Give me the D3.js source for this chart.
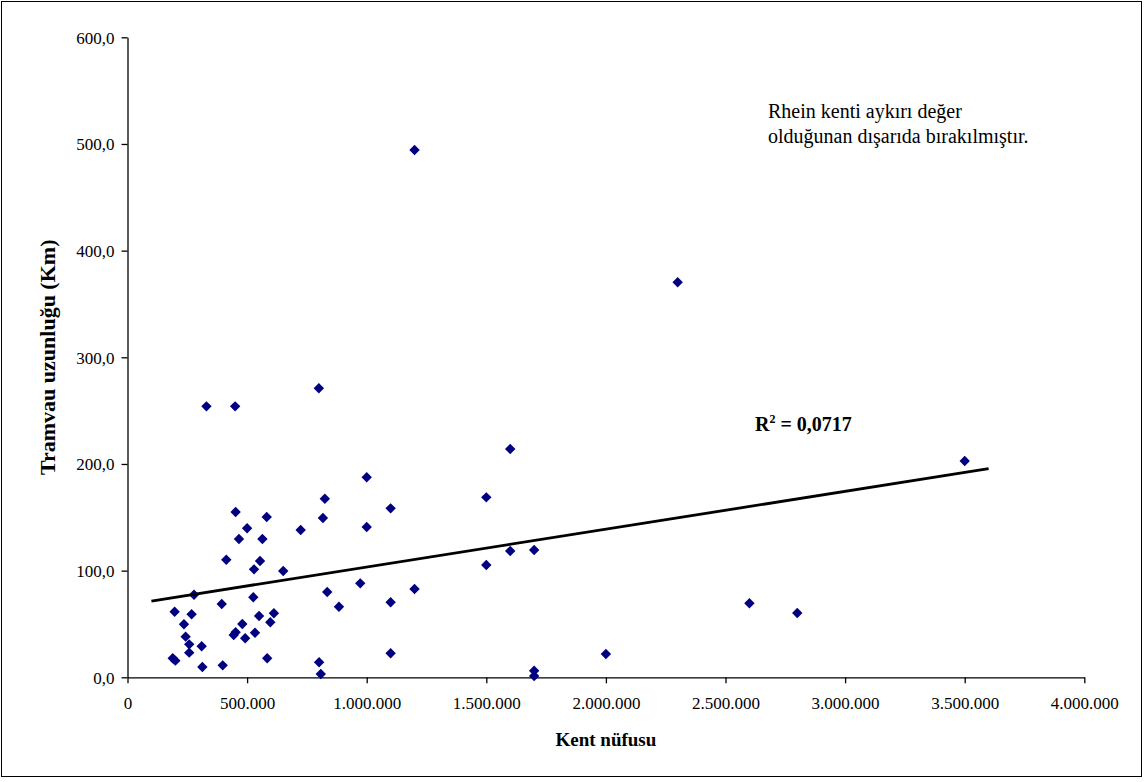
<!DOCTYPE html>
<html>
<head>
<meta charset="utf-8">
<script src="https://cdn.jsdelivr.net/npm/d3@7"></script>
<style>
  html, body { margin: 0; padding: 0; background: #fff; }
  svg { display: block; }
  text { font-family: "Liberation Serif", "Times New Roman", serif; fill: #000; }
</style>
</head>
<body>
<svg id="chart" width="1144" height="782"></svg>
<script>
// ---- data ----
const population = [
  330000, 450000, 800000, 1000000, 825000, 1100000, 452000, 582000, 817000, 500000,
  1000000, 724000, 466000, 564000, 413000, 554000, 529000, 651000, 973000, 278000,
  835000, 394000, 526000, 884000, 1100000, 197000, 268000, 612000, 550000, 236000,
  597000, 480000, 243000, 444000, 452000, 533000, 492000, 258000, 310000, 258000,
  189000, 200000, 584000, 801000, 1100000, 313000, 398000, 808000,
  1500000, 1600000, 1200000, 1500000, 1600000, 1700000, 1700000, 1700000,
  1200000, 2300000, 3500000, 2600000, 2800000, 2000000
];
const tramKm = [
  254, 254, 271, 187.5, 167.4, 158.4, 155, 150.3, 149.3, 139.7,
  140.9, 138.1, 129.7, 129.7, 110.2, 109, 101.2, 99.7, 88.1, 77.4,
  80, 68.7, 75, 66.2, 70.3, 61.5, 59.1, 60, 57.5, 49.7,
  51.6, 50, 38.1, 39.7, 42.2, 41.8, 36.6, 30.9, 29.1, 23.1,
  17.8, 15.6, 17.8, 14.1, 22.5, 9.7, 11.2, 3.1,
  168.7, 214, 82.8, 105.3, 118.4, 119.3, 6.2, 1.2,
  494.3, 370.3, 202.8, 69.4, 60.3, 21.8
];
const xTicks = [0, 500000, 1000000, 1500000, 2000000, 2500000, 3000000, 3500000, 4000000];
const yTicks = [0, 100, 200, 300, 400, 500, 600];
const trendRange = [100000, 3600000];
const trendIntercept = 67.95;
const trendSlope = 3.546e-5;
const xTitle = "Kent nüfusu";
const yTitle = "Tramvau uzunluğu (Km)";
const noteLines = ["Rhein kenti aykırı değer", "olduğunan dışarıda bırakılmıştır."];
const r2Value = "0,0717";

// ---- drawing ----
const svg = d3.select("#chart");
const W = 1144, H = 782;
const mLeft = 127.5, mRight = 1084.3, mTop = 37.3, mBottom = 677.3;

const tr = d3.formatLocale({ decimal: ",", thousands: ".", grouping: [3], currency: ["", ""] });
const fx = tr.format(",d");
const fy = tr.format(",.1f");

const x = d3.scaleLinear().domain([0, 4000000]).range([mLeft, mRight]);
const y = d3.scaleLinear().domain([0, 600]).range([mBottom, mTop]);

// outer frame
svg.append("rect")
  .attr("x", 1.5).attr("y", 1.5).attr("width", W - 4).attr("height", H - 7)
  .attr("fill", "none").attr("stroke", "#000").attr("stroke-width", 1);

// axes
const xAxis = svg.append("g")
  .attr("transform", `translate(0,${mBottom})`)
  .call(d3.axisBottom(x).tickValues(xTicks).tickFormat(fx).tickSize(6).tickSizeOuter(0));
const yAxis = svg.append("g")
  .attr("transform", `translate(${mLeft},0)`)
  .call(d3.axisLeft(y).tickValues(yTicks).tickFormat(fy).tickSize(6).tickSizeOuter(0));

[xAxis, yAxis].forEach(g => {
  g.select(".domain").attr("stroke", "#000").attr("stroke-width", 1.3);
  g.selectAll(".tick line").attr("stroke", "#000").attr("stroke-width", 1.3);
  g.selectAll(".tick text")
    .attr("font-family", '"Liberation Serif", "Times New Roman", serif')
    .attr("font-size", 17).attr("fill", "#000");
});
xAxis.selectAll(".tick text").attr("dy", null).attr("y", 32);
yAxis.selectAll(".tick text").attr("x", -13).attr("dy", "0.35em");

// points
const pts = population.map((p, i) => ({ p, v: tramKm[i] }));
svg.append("g").selectAll("path")
  .data(pts).enter().append("path")
  .attr("d", "M0,-5.2L5.2,0L0,5.2L-5.2,0Z")
  .attr("transform", d => `translate(${x(d.p)},${y(d.v)})`)
  .attr("fill", "#000080");

// trend line
const trendPts = trendRange.map(p => ({ p, v: trendIntercept + trendSlope * p }));
svg.append("path")
  .datum(trendPts)
  .attr("d", d3.line().x(d => x(d.p)).y(d => y(d.v)))
  .attr("fill", "none").attr("stroke", "#000").attr("stroke-width", 2.8);

// axis titles
svg.append("text")
  .attr("x", (mLeft + mRight) / 2).attr("y", 746)
  .attr("text-anchor", "middle").attr("font-weight", "bold").attr("font-size", 19)
  .text(xTitle);
svg.append("text")
  .attr("transform", `translate(55,${(mTop + mBottom) / 2}) rotate(-90)`)
  .attr("text-anchor", "middle").attr("font-weight", "bold").attr("font-size", 22)
  .text(yTitle);

// note
const note = svg.append("text").attr("x", 768).attr("y", 118).attr("font-size", 20);
noteLines.forEach((t, i) => note.append("tspan").attr("x", 768).attr("y", 118 + i * 25).text(t));

// R²
const r2 = svg.append("text").attr("x", 755).attr("y", 430.5)
  .attr("font-weight", "bold").attr("font-size", 20);
r2.append("tspan").text("R");
r2.append("tspan").attr("font-size", 12).attr("dy", -8).text("2");
r2.append("tspan").attr("dy", 8).text(" = " + r2Value);
</script>
</body>
</html>
